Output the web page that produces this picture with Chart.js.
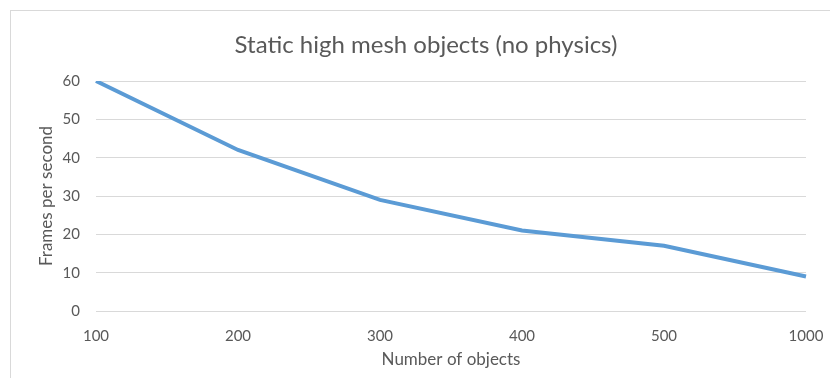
<!DOCTYPE html>
<html>
<head>
<meta charset="utf-8">
<script src="https://cdn.jsdelivr.net/npm/chart.js@4/dist/chart.umd.min.js"></script>
<style>
  html, body { margin: 0; padding: 0; background: #ffffff; }
  #wrap { position: relative; width: 830px; height: 378px; }
</style>
</head>
<body>
<div id="wrap"><canvas id="c" width="830" height="378"></canvas></div>
<script>
// Frame rate measured for increasing object counts
const objectCounts = ['100', '200', '300', '400', '500', '1000'];
const framesPerSecond = [60, 42, 29, 21, 17, 9];
const yTicks = [0, 10, 20, 30, 40, 50, 60];

const chartTitle = 'Static high mesh objects (no physics)';
const xTitle = 'Number of objects';
const yTitle = 'Frames per second';

const textColor = '#595959';
const gridColor = '#d9d9d9';
const lineColor = '#5b9bd5';
const fontFamily = 'Lato, "Open Sans", sans-serif';

// White background, thin outer frame and the centred chart heading
const framePlugin = {
  id: 'frame',
  beforeDraw(chart) {
    const ctx = chart.ctx;
    ctx.save();
    ctx.fillStyle = '#ffffff';
    ctx.fillRect(0, 0, chart.width, chart.height);
    ctx.strokeStyle = gridColor;
    ctx.lineWidth = 1;
    ctx.strokeRect(10.5, 10.5, 1000, 1000);
    ctx.fillStyle = textColor;
    ctx.font = '24px ' + fontFamily;
    ctx.textAlign = 'center';
    ctx.textBaseline = 'middle';
    ctx.fillText(chartTitle, 426, 45.5);
    ctx.restore();
  }
};

new Chart(document.getElementById('c'), {
  type: 'line',
  data: {
    labels: objectCounts,
    datasets: [{
      data: framesPerSecond,
      borderColor: lineColor,
      backgroundColor: lineColor,
      borderWidth: 4,
      pointRadius: 0,
      pointHoverRadius: 0,
      tension: 0,
      fill: false
    }]
  },
  options: {
    responsive: false,
    animation: false,
    events: [],
    layout: { padding: { left: 36, right: 24, top: 81, bottom: 8 } },
    plugins: {
      legend: { display: false },
      tooltip: { enabled: false },
      title: { display: false }
    },
    scales: {
      x: {
        offset: false,
        grid: { display: false, drawTicks: false },
        border: { display: false },
        ticks: {
          color: textColor,
          font: { family: fontFamily, size: 15 },
          padding: 16,
          maxRotation: 0,
          autoSkip: false
        },
        title: {
          display: true,
          text: xTitle,
          color: textColor,
          font: { family: fontFamily, size: 17, lineHeight: 1.2 },
          padding: 0
        },
        afterFit(scale) {
          scale.height = 59;
          scale.paddingLeft = 0;
          scale.paddingRight = 0;
        }
      },
      y: {
        min: 0,
        max: 60,
        afterBuildTicks(scale) { scale.ticks = yTicks.map(v => ({ value: v })); },
        grid: { color: gridColor, lineWidth: 1, drawTicks: false },
        border: { display: false },
        ticks: {
          color: textColor,
          font: { family: fontFamily, size: 15 },
          padding: 16
        },
        title: {
          display: true,
          text: yTitle,
          color: textColor,
          font: { family: fontFamily, size: 17, lineHeight: 1.2 },
          padding: 0
        },
        afterFit(scale) {
          scale.width = 60;
          scale.paddingTop = 0;
          scale.paddingBottom = 0;
        }
      }
    }
  },
  plugins: [framePlugin]
});
</script>
</body>
</html>
